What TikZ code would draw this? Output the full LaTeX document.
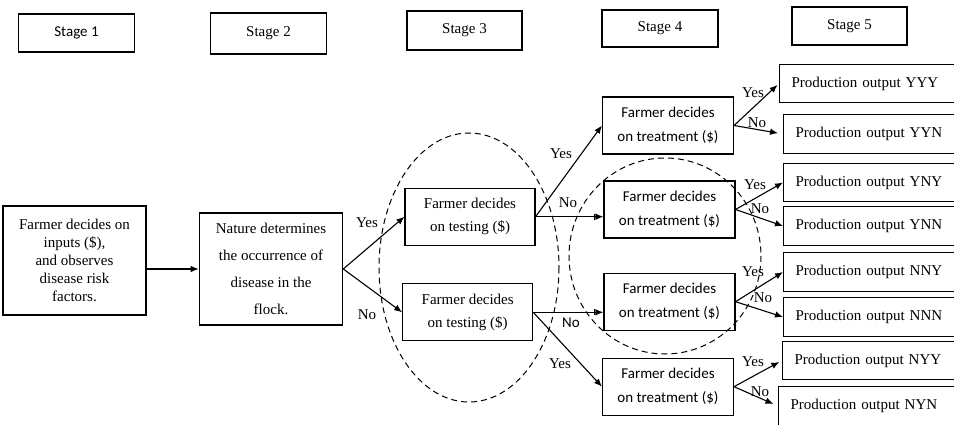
\documentclass[tikz,border=0pt]{standalone}
\usepackage{fontspec}
\setmainfont{Liberation Serif}
\newfontfamily\calib{Carlito}
\usetikzlibrary{arrows.meta}

\begin{document}
\begin{tikzpicture}[x=1pt,y=-1pt,
    every node/.style={font=\fontsize{15}{18}\selectfont},
    box/.style={draw, line width=1.1pt, inner sep=0pt, align=center},
    stagebox/.style={box, minimum width=116pt, minimum height=38pt},
    testbox/.style={box, minimum width=130pt, minimum height=57pt,
        font=\fontsize{15}{23}\selectfont},
    treatbox/.style={box, minimum width=131pt, minimum height=57pt,
        font=\calib\fontsize{15}{24}\selectfont},
    outbox/.style={draw, line width=1.1pt, anchor=west, minimum height=38.5pt,
        text width=170pt, inner xsep=12pt, inner ysep=0pt, align=left},
    arr/.style={line width=1.1pt, -{Latex[length=8pt,width=6.5pt]}},
    bararr/.style={line width=1.1pt,
        -{Bar[width=6pt,line width=1.4pt]Latex[length=8pt,width=6.5pt]}},
    ring/.style={line width=1pt, dash pattern=on 6pt off 4pt},
    lbl/.style={inner sep=0pt}
  ]
  \useasboundingbox (0,0) rectangle (954,425);

  % stage headers
  \node[stagebox, font=\calib\fontsize{15}{18}\selectfont] (st1) at (76.5,33) {Stage 1};
  \node[stagebox, minimum height=41pt] (st2) at (268.5,33.5) {Stage 2};
  \node[stagebox, minimum width=115pt, minimum height=39pt] (st3) at (464.5,30.5) {Stage 3};
  \node[stagebox, minimum height=37pt] (st4) at (660,28.5) {Stage 4};
  \node[stagebox, minimum width=115pt] (st5) at (849.5,26) {Stage 5};

  % stages 1 and 2
  \node[box, minimum width=143pt, minimum height=109pt,
    font=\fontsize{15}{18}\selectfont] (inputs) at (74.5,260.5)
    {Farmer decides on\\inputs (\$),\\and observes\\disease risk\\factors.};
  \node[box, minimum width=143.5pt, minimum height=112pt,
    font=\fontsize{15}{27}\selectfont] (nature) at (271,269)
    {Nature determines\\the occurrence of\\disease in the\\flock.};

  % stage 3
  \node[testbox] (test1) at (470,216.7) {Farmer decides\\on testing (\$)};
  \node[testbox] (test2) at (467.7,312.3) {Farmer decides\\on testing (\$)};

  % stage 4
  \node[treatbox] (treatA) at (668,125.5) {Farmer decides\\on treatment (\$)};
  \node[treatbox] (treatB) at (669.5,209.5) {Farmer decides\\on treatment (\$)};
  \node[treatbox] (treatC) at (669.5,301.7) {Farmer decides\\on treatment (\$)};
  \node[treatbox] (treatD) at (668,386.7) {Farmer decides\\on treatment (\$)};

  % stage 5
  \node[outbox] (oYYY) at (779,83.5) {Production output YYY};
  \node[outbox] (oYYN) at (783,134) {Production output YYN};
  \node[outbox] (oYNY) at (783,182.5) {Production output YNY};
  \node[outbox] (oYNN) at (783,226) {Production output YNN};
  \node[outbox] (oNNY) at (783,272) {Production output NNY};
  \node[outbox] (oNNN) at (783,317) {Production output NNN};
  \node[outbox] (oNYY) at (782,360.5) {Production output NYY};
  \node[outbox] (oNYN) at (778,406) {Production output NYN};

  % dashed groupings
  \draw[ring] (469,267.5) ellipse [x radius=90, y radius=134.5];
  \draw[ring] (665,256) ellipse [x radius=96, y radius=98];

  % connectors
  \draw[arr] (inputs.east |- nature.west) -- (nature.west);
  \draw[arr] (nature.east) -- (test1.west);
  \draw[arr] (nature.east) -- (test2.west);
  \draw[arr] (test1.east) -- (treatA.west);
  \draw[bararr] (test1.east) -- (test1.east -| treatB.west);
  \draw[bararr] (test2.east) -- (test2.east -| treatC.west);
  \draw[arr] (test2.east) -- (treatD.west);
  \draw[arr, shorten >=2pt] (treatA.east) -- (oYYY.west);
  \draw[arr, shorten >=5pt] (treatA.east) -- (oYYN.west);
  \draw[arr] (treatB.east) -- (oYNY.west);
  \draw[arr] (treatB.east) -- (oYNN.west);
  \draw[arr] (treatC.east) -- (oNNY.west);
  \draw[arr] (treatC.east) -- (oNNN.west);
  \draw[arr, shorten >=3pt] (treatD.east) -- (oNYY.west);
  \draw[arr, shorten >=5pt] (treatD.east) -- (oNYN.west);

  % branch labels
  \node[lbl] (y0) at (367,223) {Yes};
  \node[lbl] (n0) at (367,315) {No};
  \node[lbl] (y1) at (561,154) {Yes};
  \node[lbl] (n1) at (568,203) {No};
  \node[lbl, font=\calib\fontsize{15}{18}\selectfont] (n2) at (571,323) {No};
  \node[lbl] (y2) at (560,364) {Yes};
  \node[lbl] (yA) at (753,93) {Yes};
  \node[lbl] (nA) at (757,123) {No};
  \node[lbl] (yB) at (755,185) {Yes};
  \node[lbl] (nB) at (760,209) {No};
  \node[lbl] (yC) at (753,272) {Yes};
  \node[lbl] (nC) at (763,298) {No};
  \node[lbl] (yD) at (753,362) {Yes};
  \node[lbl] (nD) at (760,392) {No};
\end{tikzpicture}
\end{document}
